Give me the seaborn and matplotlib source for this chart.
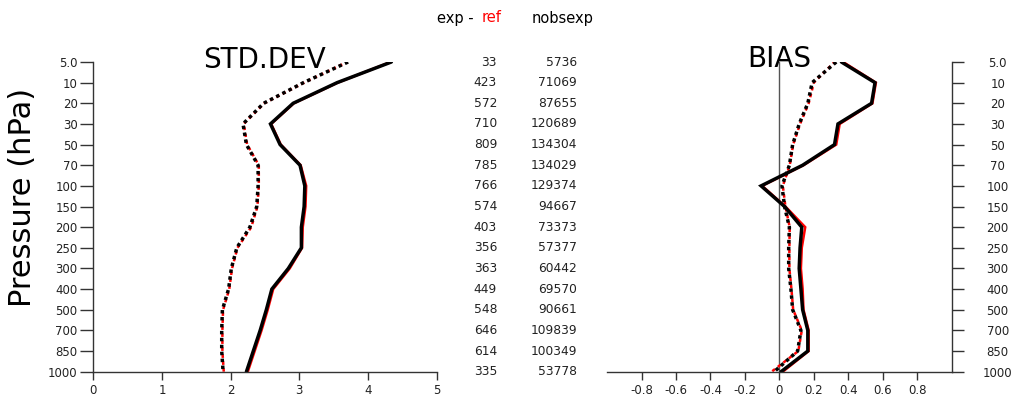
import numpy as np
import pandas as pd
import seaborn as sns
import matplotlib
matplotlib.use("Agg")
import matplotlib.pyplot as plt
import matplotlib.transforms as mtransforms

# pressure levels (top to bottom) and observation counts
levels = ["5.0", "10", "20", "30", "50", "70", "100", "150", "200",
          "250", "300", "400", "500", "700", "850", "1000"]
nobs_diff = [33, 423, 572, 710, 809, 785, 766, 574, 403, 356, 363, 449,
             548, 646, 614, 335]
nobs_exp = [5736, 71069, 87655, 120689, 134304, 134029, 129374, 94667,
            73373, 57377, 60442, 69570, 90661, 109839, 100349, 53778]

# STD.DEV profiles
std_exp_solid = [4.34, 3.55, 2.91, 2.58, 2.72, 3.01, 3.08, 3.07, 3.03,
                 3.03, 2.84, 2.60, 2.52, 2.43, 2.33, 2.23]
std_exp_dot = [3.71, 3.06, 2.48, 2.18, 2.23, 2.40, 2.40, 2.38, 2.28,
               2.09, 2.01, 1.97, 1.88, 1.87, 1.87, 1.89]
std_ref_solid = [4.33, 3.56, 2.92, 2.59, 2.73, 3.02, 3.10, 3.09, 3.05,
                 3.04, 2.86, 2.62, 2.54, 2.45, 2.35, 2.25]
std_ref_dot = [3.70, 3.07, 2.49, 2.19, 2.24, 2.41, 2.41, 2.39, 2.30,
               2.10, 2.02, 1.98, 1.89, 1.88, 1.88, 1.90]

# BIAS profiles
bias_exp_solid = [0.36, 0.555, 0.535, 0.34, 0.32, 0.135, -0.106, 0.03,
                  0.13, 0.12, 0.115, 0.125, 0.135, 0.165, 0.165, 0.01]
bias_exp_dot = [0.33, 0.19, 0.165, 0.115, 0.077, 0.058, 0.015, 0.03,
                0.058, 0.054, 0.054, 0.067, 0.077, 0.125, 0.106, -0.03]
bias_ref_solid = [0.37, 0.56, 0.54, 0.35, 0.33, 0.14, -0.10, 0.035,
                  0.15, 0.13, 0.125, 0.135, 0.14, 0.17, 0.17, 0.02]
bias_ref_dot = [0.32, 0.20, 0.17, 0.12, 0.08, 0.06, 0.02, 0.035,
                0.06, 0.058, 0.058, 0.07, 0.08, 0.13, 0.11, -0.045]

sns.set_style("ticks")
plt.rcParams['font.family'] = ['DejaVu Sans']

fig = plt.figure(figsize=(10.17, 4.0), dpi=100)
ax1 = fig.add_axes([0.0917, 0.0708, 0.3377, 0.7742])
ax2 = fig.add_axes([0.5969, 0.0708, 0.3389, 0.7742])

ypos = np.arange(len(levels))
axis_col = "#333333"
text_col = "#222222"


def draw_profiles(ax, ref_solid, ref_dot, exp_solid, exp_dot):
    # ref in red underneath, exp in black on top
    sns.lineplot(x=ref_solid, y=ypos, sort=False, estimator=None, ax=ax,
                 color="red", lw=1.8, solid_joinstyle="miter")
    sns.lineplot(x=ref_dot, y=ypos, sort=False, estimator=None, ax=ax,
                 color="red", lw=1.8, linestyle=(0.5, (1.4, 1.4)))
    sns.lineplot(x=exp_solid, y=ypos, sort=False, estimator=None, ax=ax,
                 color="black", lw=2.5, solid_joinstyle="miter")
    sns.lineplot(x=exp_dot, y=ypos, sort=False, estimator=None, ax=ax,
                 color="black", lw=2.5, linestyle=(0, (1, 1)))


# left panel: STD.DEV
draw_profiles(ax1, std_ref_solid, std_ref_dot, std_exp_solid, std_exp_dot)
ax1.set_xlim(0, 5)
ax1.set_ylim(len(levels) - 1, 0)
ax1.set_xticks([0, 1, 2, 3, 4, 5])
ax1.set_yticks(ypos)
ax1.set_yticklabels(levels)
ax1.spines[['top', 'right']].set_visible(False)
ax1.tick_params(axis='y', length=9.4, width=1, pad=1.8, labelsize=8.5,
                colors=axis_col, labelcolor=text_col)
ax1.tick_params(axis='x', length=5.8, width=1, pad=3.2, labelsize=8.5,
                colors=axis_col, labelcolor=text_col)
ax1.set_ylabel("")
fig.text(0.0226, 0.506, "Pressure (hPa)", rotation=90, fontsize=22,
         ha='center', va='center', color="black")
ax1.text(0.5, 0.981, "STD.DEV", transform=ax1.transAxes, fontsize=20,
         ha='center', va='baseline', color="black")

# right panel: BIAS
draw_profiles(ax2, bias_ref_solid, bias_ref_dot, bias_exp_solid, bias_exp_dot)
ax2.axvline(0, color="#555555", lw=1, zorder=0)
ax2.set_xlim(-1, 1)
ax2.set_ylim(len(levels) - 1, 0)
ax2.set_xticks([-0.8, -0.6, -0.4, -0.2, 0, 0.2, 0.4, 0.6, 0.8])
ax2.set_xticklabels(["-0.8", "-0.6", "-0.4", "-0.2", "0", "0.2", "0.4",
                     "0.6", "0.8"])
ax2.set_yticks(ypos)
ax2.set_yticklabels(levels)
ax2.spines[['top', 'left']].set_visible(False)
ax2.spines['right'].set_visible(True)
ax2.yaxis.tick_right()
ax2.tick_params(axis='y', length=8.6, width=1, pad=24.5, labelsize=8.5,
                colors=axis_col, labelcolor=text_col)
ax2.tick_params(axis='x', length=5.8, width=1, pad=3.2, labelsize=8.5,
                colors=axis_col, labelcolor=text_col)
for lbl in ax2.get_yticklabels():
    lbl.set_horizontalalignment('center')
ax2.text(0.5, 0.983, "BIAS", transform=ax2.transAxes, fontsize=20,
         ha='center', va='baseline', color="black")

for ax in (ax1, ax2):
    for s in ax.spines.values():
        s.set_color(axis_col)
        s.set_linewidth(1)

# middle columns: observation counts aligned with the levels
trans = mtransforms.blended_transform_factory(fig.transFigure, ax1.transData)
for i, (d, n) in enumerate(zip(nobs_diff, nobs_exp)):
    fig.text(0.4887, ypos[i], str(d), transform=trans, ha='right',
             va='center', fontsize=8.8, color=text_col)
    fig.text(0.5674, ypos[i], str(n), transform=trans, ha='right',
             va='center', fontsize=8.8, color=text_col)

fig.text(0.4297, 0.955, "exp - ", ha='left', va='center', fontsize=10.5,
         color="black")
fig.text(0.4736, 0.955, "ref", ha='left', va='center', fontsize=10.5,
         color="red")
fig.text(0.5231, 0.955, "nobsexp", ha='left', va='center', fontsize=10.5,
         color="black")

fig.savefig("out.png", dpi=100)
